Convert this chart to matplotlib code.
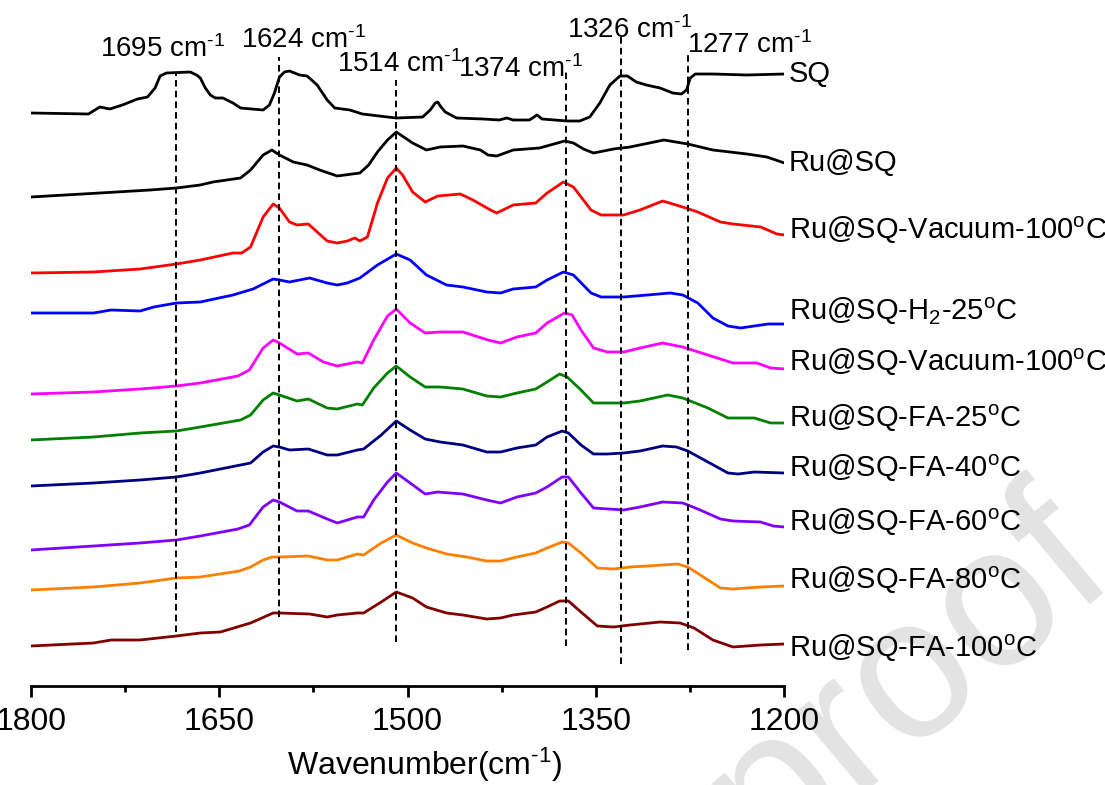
import matplotlib
matplotlib.use("Agg")
import matplotlib.pyplot as plt

plt.rcParams['font.family'] = ['Liberation Sans', 'DejaVu Sans']
plt.rcParams['mathtext.fontset'] = 'custom'
plt.rcParams['mathtext.rm'] = 'Liberation Sans'
plt.rcParams['mathtext.it'] = 'Liberation Sans:italic'
plt.rcParams['mathtext.bf'] = 'Liberation Sans:bold'

######################
# spectra (wavenumber in cm-1, intensity in a.u.)
sq_wn = [1800,1754,1745,1737,1727,1715,1707,1701,1697,1692,1673,1668,1665,1661,1657,1653,1647,1639,1633,1615,1610,1606,1602,1598,1594,1586,1580,1572,1564,1558,1546,1536,1516,1509,1488,1482,1478,1476,1474,1470,1461,1440,1427,1421,1416,1403,1397,1393,1373,1363,1355,1347,1339,1331,1325,1318,1310,1299,1289,1282,1278,1275,1271,1257,1230,1200]
sq_int = [7,6,13,11,15,21,23,32,44,47,48,45,42,32,25,22,22,17,12,10,15,27,43,48,49,45,44,35,20,12,10,6,3,2,3,10,17,18,14,8,2,1,0,2,0,0,5,1,-1,-1,3,17,35,44,44,38,35,32,27,26,30,42,46,46,45,46]

rusq_wn = [1800,1745,1705,1684,1665,1655,1633,1625,1615,1608,1602,1591,1580,1570,1556,1538,1531,1524,1516,1509,1496,1485,1474,1456,1442,1436,1429,1416,1395,1375,1368,1360,1352,1336,1323,1296,1277,1257,1230,1214,1200]
rusq_int = [3,7,10,12,15,18,22,30,45,50,45,38,35,30,24,27,35,48,60,68,57,50,53,54,50,45,44,50,52,59,57,51,47,51,53,60,56,50,46,43,37]

vac1_wn = [1800,1750,1713,1684,1665,1639,1632,1625,1615,1607,1602,1594,1588,1579,1564,1556,1548,1542,1538,1532,1524,1516,1509,1504,1496,1486,1476,1458,1448,1434,1429,1416,1398,1389,1376,1368,1354,1346,1328,1315,1297,1281,1269,1251,1241,1219,1206,1200]
vac1_int = [2,3,6,11,15,22,22,28,58,71,67,53,50,51,34,32,34,37,34,38,72,97,107,100,83,73,79,81,75,65,62,70,72,82,93,88,65,60,60,65,74,68,63,53,51,48,41,40]

h2_wn = [1800,1750,1736,1713,1702,1684,1665,1639,1623,1607,1602,1594,1578,1564,1556,1548,1538,1524,1509,1498,1485,1469,1456,1437,1426,1416,1398,1389,1376,1368,1354,1346,1328,1309,1291,1281,1269,1257,1245,1235,1213,1200]
h2_int = [2,2,5,4,8,12,13,20,26,36,35,33,37,32,30,32,37,50,61,55,40,30,28,23,22,26,28,35,43,40,22,18,18,20,22,20,12,-3,-11,-13,-9,-9]

vac2_wn = [1800,1750,1713,1684,1665,1635,1626,1615,1607,1602,1588,1579,1567,1556,1540,1536,1527,1516,1509,1498,1486,1474,1456,1436,1426,1413,1398,1389,1375,1369,1362,1352,1341,1328,1315,1297,1281,1261,1241,1222,1211,1200]
vac2_int = [1,3,6,9,12,19,25,47,55,52,41,42,33,29,33,32,55,79,86,72,62,63,63,55,52,58,62,72,82,80,65,47,43,43,47,52,48,40,32,32,27,26]

fa25_wn = [1800,1750,1713,1684,1665,1633,1625,1615,1607,1602,1588,1579,1564,1556,1540,1536,1527,1516,1509,1498,1486,1474,1456,1437,1426,1413,1398,1389,1379,1373,1362,1352,1328,1315,1293,1281,1261,1245,1224,1211,1200]
fa25_int = [0,3,7,9,13,20,25,40,47,45,39,41,32,31,36,35,52,67,74,63,53,53,51,44,43,47,51,58,66,63,50,37,37,39,45,42,32,22,22,17,17]

fa40_wn = [1800,1750,1713,1684,1665,1633,1625,1615,1607,1602,1594,1579,1564,1556,1540,1535,1521,1509,1498,1486,1474,1456,1437,1426,1413,1398,1389,1377,1372,1362,1352,1341,1328,1315,1297,1286,1277,1261,1245,1237,1224,1200]
fa40_int = [-1,2,5,8,12,20,22,33,39,38,35,36,30,30,35,36,50,64,55,46,43,40,33,33,37,40,48,54,52,40,31,31,32,34,39,38,34,23,12,11,13,12]

fa60_wn = [1800,1750,1713,1684,1665,1635,1626,1615,1607,1602,1588,1579,1564,1556,1540,1535,1527,1516,1509,1498,1486,1476,1456,1437,1426,1413,1398,1389,1377,1372,1362,1352,1328,1315,1297,1281,1269,1251,1241,1219,1209,1200]
fa60_int = [0,4,7,10,14,21,25,43,50,48,39,39,31,27,33,33,50,68,77,67,56,58,56,50,47,53,57,63,73,73,57,42,40,43,48,47,41,31,29,28,24,23]

fa80_wn = [1800,1750,1713,1684,1665,1634,1625,1615,1608,1602,1579,1564,1556,1540,1535,1521,1509,1496,1485,1469,1453,1437,1426,1413,1398,1389,1377,1372,1362,1349,1336,1323,1309,1285,1277,1267,1251,1241,1219,1200]
fa80_int = [0,3,7,12,13,19,23,30,33,33,34,30,30,36,35,47,55,47,42,36,33,29,29,33,37,42,48,47,37,22,21,23,24,26,23,15,2,1,3,4]

fa100_wn = [1800,1750,1736,1713,1684,1665,1649,1633,1625,1607,1602,1578,1564,1556,1540,1535,1521,1509,1496,1485,1469,1456,1437,1426,1416,1398,1389,1379,1372,1362,1349,1336,1323,1299,1283,1272,1257,1241,1219,1200]
fa100_int = [-1,2,5,5,9,12,13,19,22,32,32,31,28,30,32,32,43,53,47,38,32,30,26,27,30,33,38,44,44,33,19,18,20,23,22,17,5,-2,0,1]

names = ['SQ', 'Ru@SQ', 'Ru@SQ-Vacuum-100$^{\\mathrm{o}}$C', 'Ru@SQ-H$_2$-25$^{\\mathrm{o}}$C',
         'Ru@SQ-Vacuum-100$^{\\mathrm{o}}$C', 'Ru@SQ-FA-25$^{\\mathrm{o}}$C', 'Ru@SQ-FA-40$^{\\mathrm{o}}$C',
         'Ru@SQ-FA-60$^{\\mathrm{o}}$C', 'Ru@SQ-FA-80$^{\\mathrm{o}}$C', 'Ru@SQ-FA-100$^{\\mathrm{o}}$C']
spectra = [(sq_wn, sq_int), (rusq_wn, rusq_int), (vac1_wn, vac1_int), (h2_wn, h2_int),
           (vac2_wn, vac2_int), (fa25_wn, fa25_int), (fa40_wn, fa40_int),
           (fa60_wn, fa60_int), (fa80_wn, fa80_int), (fa100_wn, fa100_int)]
colors = ['#000000', '#000000', '#FF0000', '#0000FF', '#FF00FF', '#008000',
          '#000080', '#8000FF', '#FF8000', '#800000']
# vertical stacking of the spectra
offsets = [665, 585, 510, 470, 390, 345, 300, 235, 195, 140]
label_dy = [0, 0, 5, 13, 7, 5, 5, 5, 6, -4]

# marked bands
band_labels = ['1695', '1624', '1514', '1374', '1326', '1277']
band_wn = [1684, 1602, 1509, 1374, 1330, 1277]
band_top = [713, 728, 705, 715, 752, 730]
band_bottom = [153, 168, 143, 139, 121, 135]
band_text_x = [1745, 1633, 1556, 1460, 1373, 1278]
band_text_y = [728, 737, 713, 708, 747, 732]

# superscript -1 written with a plain hyphen, like the original
inv_cm = 'cm$^{\\text{-1}}$'

######################
fig = plt.figure(figsize=(11.05, 7.85), dpi=100)

# watermark
fig.text(1.013, 0.262, 'Journal Pre-proof', fontsize=144, color='#e3e3e3', rotation=40,
         rotation_mode='anchor', ha='right', va='baseline', zorder=-5)

ax = fig.add_axes([30.7 / 1105, 99 / 785, 753.8 / 1105, 686 / 785])
ax.patch.set_alpha(0)

for (wn, inten), c, off, name, dy in zip(spectra, colors, offsets, names, label_dy):
    y = [off + v for v in inten]
    ax.plot(wn, y, color=c, lw=2.0, solid_joinstyle='round')
    ax.text(1196.5, y[-1] + dy, name, fontsize=21, ha='left', va='center', clip_on=False)

for w, t, b in zip(band_wn, band_top, band_bottom):
    ax.plot([w, w], [b, t], color='black', lw=1.4, linestyle=(0, (3.4, 2.1)))

for lab, tx, ty in zip(band_labels, band_text_x, band_text_y):
    ax.text(tx, ty, lab + ' ' + inv_cm, fontsize=20, ha='left', va='baseline')

ax.set_xlim(1800, 1200)
ax.set_ylim(99, 785)
ax.set_xticks([1800, 1650, 1500, 1350, 1200])
ax.set_xticks([1725, 1575, 1425, 1275], minor=True)
ax.tick_params(axis='x', which='major', direction='out', length=8, width=2, labelsize=23, pad=7)
ax.tick_params(axis='x', which='minor', direction='out', length=4, width=2)
ax.set_yticks([])
for s in ['left', 'right', 'top']:
    ax.spines[s].set_visible(False)
ax.spines['bottom'].set_linewidth(2)

fig.text(425 / 1105, 1 - 765 / 785, 'Wavenumber(' + inv_cm + ')', fontsize=23, ha='center', va='center')

plt.savefig('out.png', dpi=100)
